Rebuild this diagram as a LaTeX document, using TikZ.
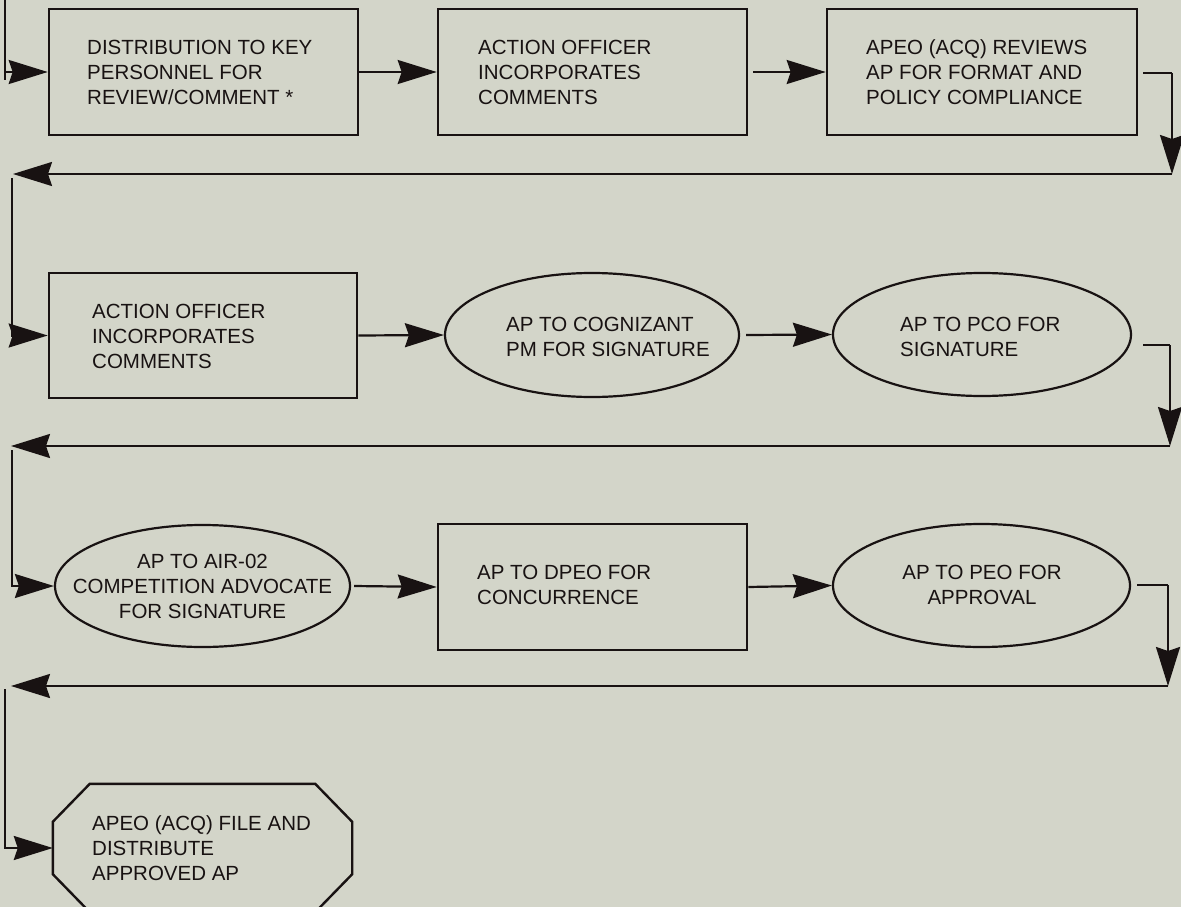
\documentclass[tikz,border=0pt]{standalone}
\usepackage{fontspec}
\setmainfont{Liberation Sans}
\usetikzlibrary{arrows.meta,shapes.geometric}
\definecolor{bg}{RGB}{211,213,201}
\definecolor{ink}{RGB}{24,18,18}
\begin{document}
\begin{tikzpicture}[x=1pt,y=-1pt,
  shapebox/.style={draw=ink,line width=2.6pt,rectangle,inner sep=0pt},
  shapeell/.style={draw=ink,line width=2.2pt,ellipse,inner sep=0pt},
  txt/.style={text=ink,inner sep=0pt,font=\fontsize{20.5}{25}\selectfont},
  txtl/.style={txt,anchor=west,align=left},
  txtc/.style={txt,align=center},
  conn/.style={draw=ink,line width=2.2pt},
  arr/.style={conn,-{Stealth[length=39pt,width=24pt,inset=4pt]}}]
\useasboundingbox (0,0) rectangle (1181,907);
\fill[bg] (0,0) rectangle (1181,907);
\clip (0,0) rectangle (1181,907);

% row 1
\node[shapebox,minimum width=309pt,minimum height=126pt] (b1) at (203.5,72) {};
\node[txtl] (b1t) at (87,72) {DISTRIBUTION TO KEY\\PERSONNEL FOR\\REVIEW/COMMENT *};
\node[shapebox,minimum width=309pt,minimum height=126pt] (b2) at (592.5,72) {};
\node[txtl] (b2t) at (478,72) {ACTION OFFICER\\INCORPORATES\\COMMENTS};
\node[shapebox,minimum width=310pt,minimum height=126pt] (b3) at (982,72) {};
\node[txtl] (b3t) at (866,72) {APEO (ACQ) REVIEWS\\AP FOR FORMAT AND\\POLICY COMPLIANCE};

% row 2
\node[shapebox,minimum width=308pt,minimum height=125pt] (b4) at (203,335.5) {};
\node[txtl] (b4t) at (92,336) {ACTION OFFICER\\INCORPORATES\\COMMENTS};
\node[shapeell,minimum width=294pt,minimum height=124pt] (e1) at (592,335) {};
\node[txtl] (e1t) at (506,337) {AP TO COGNIZANT\\PM FOR SIGNATURE};
\node[shapeell,minimum width=298pt,minimum height=123pt] (e2) at (982,334.5) {};
\node[txtl] (e2t) at (900,337) {AP TO PCO FOR\\SIGNATURE};

% row 3
\node[shapeell,minimum width=295pt,minimum height=122pt] (e3) at (202.5,586) {};
\node[txtc] (e3t) at (202.5,586) {AP TO AIR-02\\COMPETITION ADVOCATE\\FOR SIGNATURE};
\node[shapebox,minimum width=309pt,minimum height=126pt] (b5) at (592.5,587) {};
\node[txtl] (b5t) at (477,585) {AP TO DPEO FOR\\CONCURRENCE};
\node[shapeell,minimum width=297pt,minimum height=123pt] (e4) at (981.5,585.5) {};
\node[txtc] (e4t) at (982,585) {AP TO PEO FOR\\APPROVAL};

% row 4 (octagon)
\node[inner sep=0pt,minimum width=299pt,minimum height=128pt] (oct) at (202.5,848) {};
\draw[draw=ink,line width=2.4pt]
  ([xshift=37pt]oct.north west) -- ([xshift=-37pt]oct.north east)
  -- ([yshift=-38pt]oct.north east) -- ([yshift=38pt]oct.south east)
  -- ([xshift=-37pt]oct.south east) -- ([xshift=37pt]oct.south west)
  -- ([yshift=38pt]oct.south west) -- ([yshift=-38pt]oct.north west) -- cycle;
\node[txtl] (octt) at (92,848) {APEO (ACQ) FILE AND\\DISTRIBUTE\\APPROVED AP};

% incoming from above
\coordinate (in0) at (5,0);
\coordinate (in1) at (5,80);
\coordinate (inA) at (5,72);
\draw[conn] (in0) -- (in1);
\draw[arr] (inA) -- (b1.west);

% row 1 connectors
\draw[arr] (b1.east) -- (b2.west);
\draw[arr] ([xshift=5pt]b2.east) -- (b3.west);
\coordinate (s1a) at (1143,73);
\coordinate (s1b) at (1172,73);
\coordinate (s1c) at (1172,174);
\coordinate (s1d) at (13,174);
\coordinate (s1e) at (12,178);
\draw[conn] (s1a) -- (s1b);
\draw[arr] (s1b) -- (s1c);
\draw[arr] (s1c) -- (s1d);
\draw[arr] (s1e) |- (b4.west);

% row 2 connectors
\draw[arr] (b4.east) -- (e1.west);
\draw[arr] ([xshift=6pt]e1.east) -- (e2.west);
\coordinate (s2a) at (1143,345);
\coordinate (s2b) at (1170,345);
\coordinate (s2c) at (1170,446);
\coordinate (s2d) at (11,446);
\coordinate (s2e) at (12,450);
\draw[conn] (s2a) -- (s2b);
\draw[arr] (s2b) -- (s2c);
\draw[arr] (s2c) -- (s2d);
\draw[arr] (s2e) |- (e3.west);

% row 3 connectors
\draw[arr] ([xshift=3pt]e3.east) -- (b5.west);
\draw[arr] (b5.east) -- (e4.west);
\coordinate (s3a) at (1137,585);
\coordinate (s3b) at (1168,585);
\coordinate (s3c) at (1168,686);
\coordinate (s3d) at (11,686);
\coordinate (s3e) at (5,689);
\draw[conn] (s3a) -- (s3b);
\draw[arr] (s3b) -- (s3c);
\draw[arr] (s3c) -- (s3d);
\draw[arr] (s3e) |- (oct.west);
\end{tikzpicture}
\end{document}
